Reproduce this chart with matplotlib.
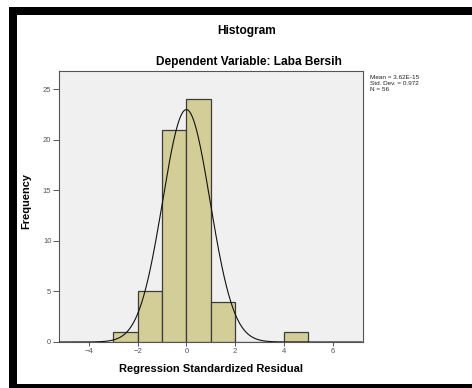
import numpy as np
import matplotlib.pyplot as plt
from matplotlib.patches import Rectangle

# histogram of regression standardized residuals (SPSS style)
bin_edges = [-3, -2, -1, 0, 1, 2, 3, 4, 5]
counts = [1, 5, 21, 24, 4, 0, 0, 1]
mean = 3.62e-15
std_dev = 0.972
n = 56
x_ticks = [-4, -2, 0, 2, 4, 6]
y_ticks = [0, 5, 10, 15, 20, 25]

plt.rcParams['font.family'] = ['Liberation Sans', 'DejaVu Sans']

fig = plt.figure(figsize=(4.72, 3.88), dpi=100)
fig.patch.set_facecolor('white')

# black frame (top, left, bottom)
fig.add_artist(Rectangle((9/472, 1 - 15/388), 1, 8/388, transform=fig.transFigure, color='black', lw=0))
fig.add_artist(Rectangle((9/472, 0), 8/472, 1 - 7/388, transform=fig.transFigure, color='black', lw=0))
fig.add_artist(Rectangle((9/472, 0), 1, 4/388, transform=fig.transFigure, color='black', lw=0))

ax = fig.add_axes([59/472, 46/388, 304/472, 271/388])
ax.set_facecolor('#f0f0f0')

widths = np.diff(bin_edges)
ax.bar(bin_edges[:-1], counts, width=widths, align='edge', color='#d3ce97',
       edgecolor='#3c3c3c', linewidth=0.9, zorder=2)

# fitted normal curve, scaled to counts (bin width 1)
xs = np.linspace(-5.2, 7.2, 400)
curve = n * 1.0 / (std_dev * np.sqrt(2 * np.pi)) * np.exp(-0.5 * ((xs - mean) / std_dev) ** 2)
ax.plot(xs, curve, color='#111111', lw=0.8, zorder=3)

ax.set_xlim(-5.22, 7.24)
ax.set_ylim(0, 26.8)
ax.set_xticks(x_ticks)
ax.set_yticks(y_ticks)
ax.tick_params(axis='both', labelsize=5.5, colors='#555555', length=4, width=0.7, pad=1.5)
ax.tick_params(axis='x', length=3)
for s in ax.spines.values():
    s.set_color('#555555')
    s.set_linewidth(0.8)

ax.set_xlabel('Regression Standardized Residual', fontsize=8, fontweight='bold', labelpad=6)
ax.set_ylabel('Frequency', fontsize=7.9, fontweight='bold', labelpad=8)
ax.yaxis.set_label_coords(-0.09, 0.52)

fig.text(247/472, 1 - 31/388, 'Histogram', ha='center', va='center', fontsize=8.6, fontweight='bold')
fig.text(249/472, 1 - 62/388, 'Dependent Variable: Laba Bersih', ha='center', va='center',
         fontsize=8.6, fontweight='bold')
fig.text(370/472, 1 - 75/388, 'Mean = 3.62E-15\nStd. Dev. = 0.972\nN = 56', ha='left', va='top',
         fontsize=4.6, linespacing=1.3, color='#222222')

fig.savefig('out.png', dpi=100)
